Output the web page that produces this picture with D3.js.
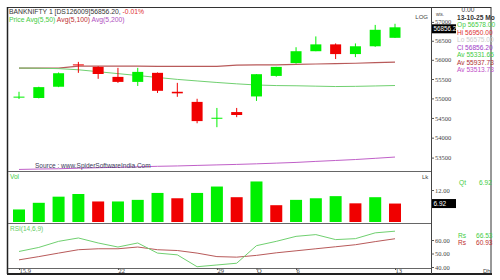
<!DOCTYPE html>
<html>
<head>
<meta charset="utf-8">
<script src="https://cdn.jsdelivr.net/npm/d3@7"></script>
<style>
  body { margin: 0; background: #fff; }
  text { font-family: "Liberation Sans", Arial, sans-serif; }
  .axis text { font-family: "Liberation Serif", serif; font-size: 6.5px; fill: #444; }
  .axis line { stroke: #555; }
  .axis path { display: none; }
</style>
</head>
<body>
<div id="chart"></div>
<script>
// daily candles, BANKNIFTY 15 Sep - 13 Oct 2025
var dates = ["09-15","09-16","09-17","09-18","09-19","09-22","09-23","09-24","09-25","09-26",
             "09-29","09-30","10-01","10-03","10-06","10-07","10-08","10-09","10-10","10-13"];
var open  = [55020,55010,55300,55880,55815,55555,55425,55660,55170,54910,54490,54650,55050,55580,55915,56225,56405,56150,56355,56578];
var high  = [55170,55300,55670,55945,55830,55790,55790,55670,55400,54990,54755,54755,55625,55815,56330,56615,56430,56430,56920,56950];
var low   = [54985,55000,55290,55660,55505,55400,55320,55140,55040,54365,54265,54520,54935,55560,55900,56225,56020,56070,56340,56575];
var close = [55045,55290,55650,55860,55630,55425,55685,55195,55130,54420,54505,54575,55625,55815,56225,56405,56150,56355,56790,56856.2];

var ma50  = [55785,55780,55770,55740,55690,55640,55590,55540,55490,55450,55410,55375,55345,55330,55325,55315,55305,55310,55320,55331.65];
var ma100 = [55785,55785,55785,55835,55835,55835,55835,55830,55830,55830,55830,55860,55865,55870,55880,55890,55900,55910,55925,55937.73];
var ma200 = [53205,53215,53222,53236,53248,53258,53270,53283,53292,53305,53318,53330,53345,53362,53380,53405,53428,53452,53482,53513.73];

var vol   = [4.7,7.2,9.5,10.5,7.7,7.7,8.3,10.9,8.9,10.9,13.3,9.3,15.2,6.3,8.3,8.9,9.7,7.0,9.3,6.92];
var volUp = [1,1,1,1,0,1,1,1,0,1,1,0,1,0,1,1,1,0,1,0];

var rsi    = [51.5,54.5,59,61.5,57.8,54.8,57.8,50.3,49,40.2,41.5,42.8,55.8,59,62.7,64,60.3,61,65.3,66.53];
var rsiSig = [45.3,47.7,50.3,52.8,53.5,53.5,54.8,52.8,52.2,50.3,47.7,47.3,48.6,50.5,52,53.5,55,56.5,58.8,60.93];

var priceTicks = [57000,56500,56000,55500,55000,54500,54000,53500];
var volTicks = [12];
var rsiTicks = [40,50,60];
var xTickDates  = ["09-15","09-22","09-29","10-01","10-06","10-13"];
var xTickLabels = ["15.9","22","29","O","6","13"];

var GREEN = "#00f000", RED = "#f00000";

var W = 500, H = 280;
var left = 8, right = 431, frameR = 491;
var priceTop = 8, priceBot = 171, volBot = 223, rsiBot = 268, frameB = 274;

var svg = d3.select("#chart").append("svg")
    .attr("width", W).attr("height", H);

// scales
var x = d3.scalePoint().domain(dates).range([19, 395]);
var y = d3.scaleLog().domain([53500, 57000]).range([157.6, 21.9]);
var yv = d3.scaleLinear().domain([0, 12]).range([222, 190]);
var yr = d3.scaleLinear().domain([40, 60]).range([267, 240]);

var bodyW = 11, barW = 12;

// frame + panel separators
svg.append("rect")
    .attr("x", 7.5).attr("y", 7.5)
    .attr("width", frameR - 7.5).attr("height", frameB - 7.5)
    .attr("fill", "none").attr("stroke", "#333");
svg.append("line").attr("x1", 7).attr("x2", frameR + 1).attr("y1", frameB).attr("y2", frameB)
    .attr("stroke", "#222").attr("stroke-width", 2);
svg.append("line").attr("x1", 7.5).attr("x2", 7.5).attr("y1", 7).attr("y2", frameB)
    .attr("stroke", "#222").attr("stroke-width", 1.5);
svg.append("line").attr("x1", right + 0.5).attr("x2", right + 0.5).attr("y1", 7.5).attr("y2", frameB)
    .attr("stroke", "#444");
[priceBot, volBot, rsiBot].forEach(function(yy) {
  svg.append("line").attr("x1", left).attr("x2", right).attr("y1", yy + 0.5).attr("y2", yy + 0.5)
      .attr("stroke", "#666");
});

// header
var h1 = svg.append("text").attr("x", 9).attr("y", 13.5).attr("font-size", 6.8).attr("fill", "#333");
h1.append("tspan").text("BANKNIFTY 1 [DS126009]56856.20, ");
h1.append("tspan").attr("fill", "#e03030").text("-0.01%");
var h2 = svg.append("text").attr("x", 9).attr("y", 21.5).attr("font-size", 6.8);
h2.append("tspan").attr("fill", "#44cc44").text("Price ");
h2.append("tspan").attr("fill", "#44cc44").text("Avg(5,50) ");
h2.append("tspan").attr("fill", "#c03030").text("Avg(5,100) ");
h2.append("tspan").attr("fill", "#b050c0").text("Avg(5,200)");

svg.append("text").attr("x", 428).attr("y", 19).attr("text-anchor", "end")
    .attr("font-size", 6).attr("fill", "#444").text("LOG");

// moving averages
var maLine = function(arr) {
  return d3.line()
      .x(function(d, i) { return x(dates[i]); })
      .y(function(d) { return y(d); })(arr);
};
svg.append("path").attr("d", maLine(ma200)).attr("fill", "none").attr("stroke", "#c060c8").attr("stroke-width", 1);
svg.append("path").attr("d", maLine(ma100)).attr("fill", "none").attr("stroke", "#b85a5a").attr("stroke-width", 1.2);
svg.append("path").attr("d", maLine(ma50)).attr("fill", "none").attr("stroke", "#70d070").attr("stroke-width", 1);

// candles
var candles = svg.append("g").selectAll("g")
    .data(dates)
    .enter().append("g");
candles.append("line")
    .attr("x1", function(d) { return x(d); })
    .attr("x2", function(d) { return x(d); })
    .attr("y1", function(d, i) { return y(high[i]); })
    .attr("y2", function(d, i) { return y(low[i]); })
    .attr("stroke", function(d, i) { return close[i] >= open[i] ? GREEN : RED; });
candles.append("rect")
    .attr("x", function(d) { return x(d) - bodyW / 2; })
    .attr("width", bodyW)
    .attr("y", function(d, i) { return y(Math.max(open[i], close[i])); })
    .attr("height", function(d, i) { return Math.max(1, Math.abs(y(open[i]) - y(close[i]))); })
    .attr("fill", function(d, i) { return close[i] >= open[i] ? GREEN : RED; });

svg.append("text").attr("x", 35).attr("y", 168).attr("font-size", 6.5).attr("fill", "#3a3a5a")
    .text("Source : www.SpiderSoftwareIndia.Com");

// price axis
svg.append("g").attr("class", "axis")
    .attr("transform", "translate(" + right + ",0)")
    .call(d3.axisRight(y).tickValues(priceTicks).tickSize(3).tickPadding(1).tickFormat(d3.format("d")));
svg.append("text").attr("x", 436).attr("y", 16).attr("font-size", 4.5).attr("fill", "#444").text("wts.");
// last price marker, nudged down a little so the 57000 label stays readable
var lastY = y(close[19]) + 1.5;
svg.append("rect").attr("x", right + 1).attr("y", lastY - 4.5).attr("width", 24).attr("height", 9).attr("fill", "#000");
svg.append("text").attr("x", right + 2.5).attr("y", lastY + 2.3).attr("font-size", 6.3)
    .attr("font-family", "Liberation Serif").attr("fill", "#fff").text("56856.2");

// volume
svg.append("text").attr("x", 10).attr("y", 179).attr("font-size", 6.5).attr("fill", "#44cc44").text("Vol");
svg.append("text").attr("x", 422).attr("y", 179).attr("font-size", 6).attr("fill", "#444").text("Lk");
svg.append("g").selectAll("rect")
    .data(vol)
    .enter().append("rect")
    .attr("x", function(d, i) { return x(dates[i]) - barW / 2; })
    .attr("width", barW)
    .attr("y", function(d) { return yv(d); })
    .attr("height", function(d) { return yv(0) - yv(d); })
    .attr("fill", function(d, i) { return volUp[i] ? GREEN : RED; });
svg.append("g").attr("class", "axis")
    .attr("transform", "translate(" + right + ",0)")
    .call(d3.axisRight(yv).tickValues(volTicks).tickSize(3).tickPadding(1).tickFormat(d3.format(".2f")));
svg.append("rect").attr("x", right + 1).attr("y", yv(vol[19]) - 4.5).attr("width", 24).attr("height", 9).attr("fill", "#000");
svg.append("text").attr("x", right + 2.5).attr("y", yv(vol[19]) + 2.3).attr("font-size", 6.5)
    .attr("font-family", "Liberation Serif").attr("fill", "#fff").text("6.92");

// rsi
svg.append("text").attr("x", 10).attr("y", 231).attr("font-size", 6.5).attr("fill", "#66cc66").text("RSI(14,6,9)");
var rsiLine = d3.line()
    .x(function(d, i) { return x(dates[i]); })
    .y(function(d) { return yr(d); });
svg.append("path").attr("d", rsiLine(rsiSig)).attr("fill", "none").attr("stroke", "#b85a5a").attr("stroke-width", 1);
svg.append("path").attr("d", rsiLine(rsi)).attr("fill", "none").attr("stroke", "#70d070").attr("stroke-width", 1);
svg.append("g").attr("class", "axis")
    .attr("transform", "translate(" + right + ",0)")
    .call(d3.axisRight(yr).tickValues(rsiTicks).tickSize(3).tickPadding(1).tickFormat(d3.format(".2f")));

// x axis
var xAxis = svg.append("g").attr("class", "axis")
    .attr("transform", "translate(0," + rsiBot + ")")
    .call(d3.axisBottom(x).tickValues(xTickDates).tickSize(2).tickPadding(0)
      .tickFormat(function(d) { return xTickLabels[xTickDates.indexOf(d)]; }));
xAxis.selectAll("text").attr("text-anchor", "start").attr("font-size", 6).attr("dy", "0.5em");

// info column
var info = [
  ["0.00", "#444", 12],
  ["13-10-25 Mo", "#333", 19.5],
  ["Op 56578.00", "#44cc44", 27],
  ["Hi 56950.00", "#dd3030", 34.5],
  ["Lo 56575.00", "#cccccc", 42],
  ["Cl 56856.20", "#a040c8", 49.5],
  ["Av 55331.65", "#44cc44", 57],
  ["Av 55937.73", "#b03030", 64.5],
  ["Av 53513.73", "#c050c8", 72]
];
info.forEach(function(r, i) {
  svg.append("text")
      .attr("x", i == 0 ? 468 : 457)
      .attr("y", r[2])
      .attr("text-anchor", i == 0 ? "middle" : "start")
      .attr("font-size", 6.6)
      .attr("font-family", i < 2 ? "Liberation Serif" : "Liberation Sans")
      .attr("font-weight", i == 1 ? "bold" : "normal")
      .attr("fill", r[1])
      .text(r[0]);
});
svg.append("text").attr("x", 459).attr("y", 185).attr("font-size", 6.6).attr("fill", "#44cc44").text("Qt");
svg.append("text").attr("x", 479).attr("y", 185).attr("font-size", 6.6).attr("fill", "#44cc44").text("6.92");
svg.append("text").attr("x", 458).attr("y", 238).attr("font-size", 6.6).attr("fill", "#44cc44").text("Rs");
svg.append("text").attr("x", 476).attr("y", 238).attr("font-size", 6.6).attr("fill", "#44cc44").text("66.53");
svg.append("text").attr("x", 458).attr("y", 245).attr("font-size", 6.6).attr("fill", "#c03030").text("Rs");
svg.append("text").attr("x", 476).attr("y", 245).attr("font-size", 6.6).attr("fill", "#c03030").text("60.93");
svg.append("text").attr("x", 483).attr("y", 273).attr("font-size", 6).attr("fill", "#444").text("Dh");
</script>
</body>
</html>
